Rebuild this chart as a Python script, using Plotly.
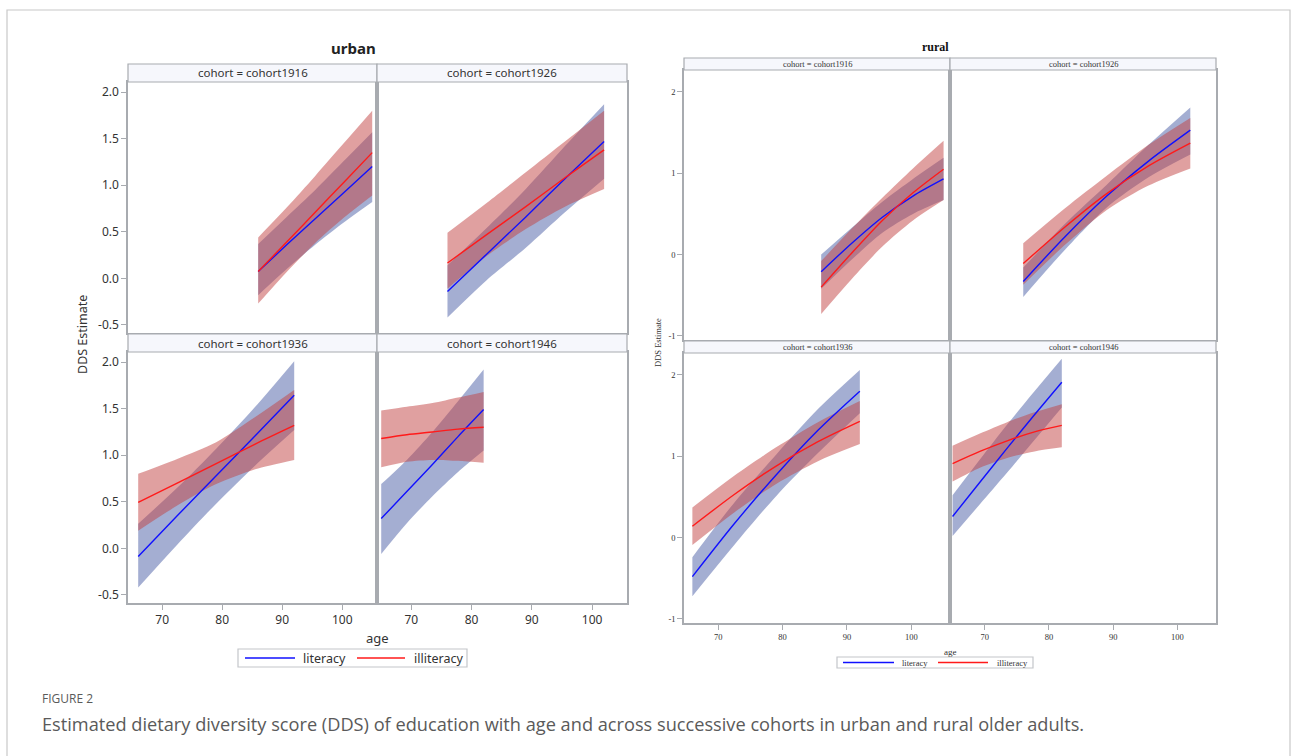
import plotly.graph_objects as go

W, H = 1292, 756

cohorts = ["cohort1916", "cohort1926", "cohort1936", "cohort1946"]
series_names = ["literacy", "illiteracy"]

# ---------------- urban ----------------
u1916_age = [86, 90.75, 95.5, 100.25, 105]
u1916_lit = [0.075, 0.36, 0.64, 0.92, 1.20]
u1916_lit_lo = [-0.18, 0.10, 0.36, 0.60, 0.82]
u1916_lit_hi = [0.37, 0.66, 0.95, 1.26, 1.57]
u1916_ill = [0.075, 0.39, 0.71, 1.03, 1.35]
u1916_ill_lo = [-0.27, 0.07, 0.38, 0.65, 0.89]
u1916_ill_hi = [0.44, 0.76, 1.10, 1.45, 1.80]

u1926_age = [76, 82.5, 89, 95.5, 102]
u1926_lit = [-0.14, 0.26, 0.66, 1.07, 1.47]
u1926_lit_lo = [-0.42, -0.02, 0.33, 0.71, 1.07]
u1926_lit_hi = [0.14, 0.54, 0.96, 1.42, 1.87]
u1926_ill = [0.165, 0.47, 0.77, 1.08, 1.38]
u1926_ill_lo = [-0.11, 0.24, 0.53, 0.77, 0.96]
u1926_ill_hi = [0.49, 0.81, 1.14, 1.47, 1.80]

u1936_age = [66, 72.5, 79, 85.5, 92]
u1936_lit = [-0.086, 0.35, 0.78, 1.21, 1.645]
u1936_lit_lo = [-0.42, 0.04, 0.48, 0.89, 1.27]
u1936_lit_hi = [0.265, 0.65, 1.07, 1.52, 2.01]
u1936_ill = [0.495, 0.70, 0.91, 1.12, 1.32]
u1936_ill_lo = [0.19, 0.46, 0.69, 0.85, 0.95]
u1936_ill_hi = [0.80, 0.96, 1.14, 1.41, 1.70]

u1946_age = [65, 69.25, 73.5, 77.75, 82]
u1946_lit = [0.32, 0.61, 0.90, 1.20, 1.49]
u1946_lit_lo = [-0.06, 0.27, 0.56, 0.82, 1.05]
u1946_lit_hi = [0.69, 0.95, 1.25, 1.58, 1.92]
u1946_ill = [1.18, 1.22, 1.25, 1.28, 1.30]
u1946_ill_lo = [0.87, 0.93, 0.95, 0.94, 0.92]
u1946_ill_hi = [1.48, 1.52, 1.56, 1.62, 1.68]

# ---------------- rural ----------------
r1916_age = [86, 90.75, 95.5, 100.25, 105]
r1916_lit = [-0.21, 0.14, 0.46, 0.72, 0.93]
r1916_lit_lo = [-0.42, -0.06, 0.27, 0.50, 0.67]
r1916_lit_hi = [0.0, 0.33, 0.65, 0.93, 1.19]
r1916_ill = [-0.40, 0.02, 0.42, 0.76, 1.05]
r1916_ill_lo = [-0.73, -0.30, 0.10, 0.42, 0.67]
r1916_ill_hi = [-0.08, 0.32, 0.70, 1.06, 1.40]

r1926_age = [76, 82.5, 89, 95.5, 102]
r1926_lit = [-0.33, 0.22, 0.72, 1.15, 1.53]
r1926_lit_lo = [-0.52, 0.06, 0.58, 0.95, 1.23]
r1926_lit_hi = [-0.16, 0.38, 0.86, 1.35, 1.81]
r1926_ill = [-0.11, 0.34, 0.75, 1.09, 1.37]
r1926_ill_lo = [-0.37, 0.12, 0.55, 0.85, 1.06]
r1926_ill_hi = [0.14, 0.57, 0.97, 1.35, 1.68]

r1936_age = [66, 72.5, 79, 85.5, 92]
r1936_lit = [-0.48, 0.17, 0.77, 1.32, 1.80]
r1936_lit_lo = [-0.72, -0.09, 0.51, 1.04, 1.53]
r1936_lit_hi = [-0.24, 0.43, 1.02, 1.58, 2.06]
r1936_ill = [0.14, 0.53, 0.88, 1.18, 1.43]
r1936_ill_lo = [-0.09, 0.31, 0.66, 0.94, 1.15]
r1936_ill_hi = [0.37, 0.76, 1.11, 1.42, 1.68]

r1946_age = [65, 69.25, 73.5, 77.75, 82]
r1946_lit = [0.26, 0.68, 1.10, 1.51, 1.91]
r1946_lit_lo = [0.02, 0.41, 0.80, 1.20, 1.60]
r1946_lit_hi = [0.52, 0.96, 1.39, 1.80, 2.20]
r1946_ill = [0.91, 1.06, 1.19, 1.30, 1.38]
r1946_ill_lo = [0.69, 0.86, 0.98, 1.06, 1.11]
r1946_ill_hi = [1.13, 1.28, 1.42, 1.54, 1.64]

urban_ticks = [-0.5, 0.0, 0.5, 1.0, 1.5, 2.0]
rural_ticks = [-1, 0, 1, 2]
age_ticks = [70, 80, 90, 100]

# ---------------- styling ----------------
BLUE_FILL = "rgba(73,93,165,0.5)"
RED_FILL = "rgba(193,65,65,0.5)"
BLUE = "#1010FF"
RED = "#FF1A1A"
FRAME = "#A8ABB0"
SANS = "Noto Sans"
SERIF = "Liberation Serif"


def fx(p):
    return p / W


def fy(p):
    return 1 - p / H


panels = [
    (dict(age=u1916_age, lit=u1916_lit, lit_lo=u1916_lit_lo, lit_hi=u1916_lit_hi,
          ill=u1916_ill, ill_lo=u1916_ill_lo, ill_hi=u1916_ill_hi), (128, 377), (82, 333), "urban", 0, 0, cohorts[0]),
    (dict(age=u1926_age, lit=u1926_lit, lit_lo=u1926_lit_lo, lit_hi=u1926_lit_hi,
          ill=u1926_ill, ill_lo=u1926_ill_lo, ill_hi=u1926_ill_hi), (377, 627), (82, 333), "urban", 0, 1, cohorts[1]),
    (dict(age=u1936_age, lit=u1936_lit, lit_lo=u1936_lit_lo, lit_hi=u1936_lit_hi,
          ill=u1936_ill, ill_lo=u1936_ill_lo, ill_hi=u1936_ill_hi), (128, 377), (352, 603), "urban", 1, 0, cohorts[2]),
    (dict(age=u1946_age, lit=u1946_lit, lit_lo=u1946_lit_lo, lit_hi=u1946_lit_hi,
          ill=u1946_ill, ill_lo=u1946_ill_lo, ill_hi=u1946_ill_hi), (377, 627), (352, 603), "urban", 1, 1, cohorts[3]),
    (dict(age=r1916_age, lit=r1916_lit, lit_lo=r1916_lit_lo, lit_hi=r1916_lit_hi,
          ill=r1916_ill, ill_lo=r1916_ill_lo, ill_hi=r1916_ill_hi), (684, 950), (70, 340), "rural", 0, 0, cohorts[0]),
    (dict(age=r1926_age, lit=r1926_lit, lit_lo=r1926_lit_lo, lit_hi=r1926_lit_hi,
          ill=r1926_ill, ill_lo=r1926_ill_lo, ill_hi=r1926_ill_hi), (950, 1216), (70, 340), "rural", 0, 1, cohorts[1]),
    (dict(age=r1936_age, lit=r1936_lit, lit_lo=r1936_lit_lo, lit_hi=r1936_lit_hi,
          ill=r1936_ill, ill_lo=r1936_ill_lo, ill_hi=r1936_ill_hi), (684, 950), (353, 623), "rural", 1, 0, cohorts[2]),
    (dict(age=r1946_age, lit=r1946_lit, lit_lo=r1946_lit_lo, lit_hi=r1946_lit_hi,
          ill=r1946_ill, ill_lo=r1946_ill_lo, ill_hi=r1946_ill_hi), (950, 1216), (353, 623), "rural", 1, 1, cohorts[3]),
]

fig = go.Figure()
shapes = []
annotations = []
layout_axes = {}

for i, (d, xs, ys, region, row, col, coh) in enumerate(panels, start=1):
    xa = "x" if i == 1 else f"x{i}"
    ya = "y" if i == 1 else f"y{i}"
    urban = region == "urban"
    font_name = SANS if urban else SERIF
    tick_size = 12 if urban else 8.5
    for lo, hi, fill in ((d["lit_lo"], d["lit_hi"], BLUE_FILL), (d["ill_lo"], d["ill_hi"], RED_FILL)):
        fig.add_trace(go.Scatter(x=d["age"], y=lo, xaxis=xa, yaxis=ya, mode="lines",
                                 line=dict(width=0, shape="spline", smoothing=0.8),
                                 showlegend=False, hoverinfo="skip"))
        fig.add_trace(go.Scatter(x=d["age"], y=hi, xaxis=xa, yaxis=ya, mode="lines",
                                 line=dict(width=0, shape="spline", smoothing=0.8),
                                 fill="tonexty", fillcolor=fill,
                                 showlegend=False, hoverinfo="skip"))
    for key, color, name in (("lit", BLUE, series_names[0]), ("ill", RED, series_names[1])):
        fig.add_trace(go.Scatter(x=d["age"], y=d[key], xaxis=xa, yaxis=ya, mode="lines",
                                 name=name, line=dict(color=color, width=1.4, shape="spline", smoothing=0.8),
                                 showlegend=False))

    xr = [64.3, 105.8] if urban else ([64.7, 106.0] if col == 0 else [64.6, 106.0])
    yr = [-0.586, 2.108] if urban else [-1.05, 2.27]
    yt = urban_ticks if urban else rural_ticks
    ytext = [f"{v:.1f}" for v in yt] if urban else [f"{v:d}" for v in yt]
    show_x = row == 1
    show_y = col == 0
    layout_axes["xaxis" if i == 1 else f"xaxis{i}"] = dict(
        domain=[fx(xs[0]), fx(xs[1])], range=xr, anchor=ya,
        showline=True, mirror=True, linecolor=FRAME, linewidth=1.5,
        showgrid=False, zeroline=False,
        tickvals=age_ticks if show_x else [], ticktext=[str(v) for v in age_ticks] if show_x else [],
        ticks="outside" if show_x else "",
        ticklen=5, tickcolor=FRAME, showticklabels=show_x,
        tickfont=dict(family=font_name, size=tick_size, color="#333"), fixedrange=True,
    )
    layout_axes["yaxis" if i == 1 else f"yaxis{i}"] = dict(
        domain=[fy(ys[1]), fy(ys[0])], range=yr, anchor=xa,
        showline=True, mirror=True, linecolor=FRAME, linewidth=1.5,
        showgrid=False, zeroline=False,
        tickvals=yt if show_y else [], ticktext=ytext if show_y else [],
        ticks="outside" if show_y else "", ticklen=5, tickcolor=FRAME,
        showticklabels=show_y,
        tickfont=dict(family=font_name, size=tick_size, color="#333"), fixedrange=True,
    )
    sh = 18 if urban else 12
    shapes.append(dict(type="rect", xref="paper", yref="paper",
                       x0=fx(xs[0]), x1=fx(xs[1]), y0=fy(ys[0]), y1=fy(ys[0] - sh),
                       fillcolor="#F6F7FC", line=dict(color=FRAME, width=1.2), layer="above"))
    annotations.append(dict(xref="paper", yref="paper", x=fx((xs[0] + xs[1]) / 2), y=fy(ys[0] - sh / 2),
                            text=f"cohort = {coh}", showarrow=False, xanchor="center", yanchor="middle",
                            font=dict(family=font_name, size=11.5 if urban else 8.5, color="#333")))

fig.update_layout(**layout_axes)


def text(x, y, s, size, family, color="#333", bold=False, angle=0, xanchor="center"):
    annotations.append(dict(xref="paper", yref="paper", x=fx(x), y=fy(y),
                            text=f"<b>{s}</b>" if bold else s, showarrow=False,
                            xanchor=xanchor, yanchor="middle", textangle=angle,
                            font=dict(family=family, size=size, color=color)))


text(353, 48, "urban", 15, SANS, "#222", bold=True)
text(935, 47, "rural", 12, SERIF, "#111", bold=True)
text(377, 638, "age", 13, SANS)
text(950, 652, "age", 9, SERIF)
text(82, 335, "DDS Estimate", 12.5, SANS, angle=-90)
text(658, 343, "DDS Estimate", 8.5, SERIF, angle=-90)


def legend(box, yc, blue_seg, lit_x, red_seg, ill_x, size, family):
    shapes.append(dict(type="rect", xref="paper", yref="paper", x0=fx(box[0]), x1=fx(box[1]),
                       y0=fy(box[2]), y1=fy(box[3]), line=dict(color="#C4C6CA", width=1.2),
                       fillcolor="white"))
    shapes.append(dict(type="line", xref="paper", yref="paper", x0=fx(blue_seg[0]), x1=fx(blue_seg[1]),
                       y0=fy(yc), y1=fy(yc), line=dict(color=BLUE, width=1.4)))
    shapes.append(dict(type="line", xref="paper", yref="paper", x0=fx(red_seg[0]), x1=fx(red_seg[1]),
                       y0=fy(yc), y1=fy(yc), line=dict(color=RED, width=1.4)))
    text(lit_x, yc, series_names[0], size, family, xanchor="left")
    text(ill_x, yc, series_names[1], size, family, xanchor="left")


legend((238, 467, 649, 667), 658, (245, 295), 301, (357, 405), 412, 12.5, SANS)
legend((837, 1033, 657, 668), 662.5, (843, 894), 900, (938, 988), 995, 8.5, SERIF)

text(40, 698, "FIGURE 2", 12, "Open Sans", "#5a5a5a", xanchor="left")
text(40, 724, "Estimated dietary diversity score (DDS) of education with age and across successive cohorts in urban and rural older adults.",
     18.2, "Open Sans", "#5a5a5a", xanchor="left")

shapes.append(dict(type="rect", xref="paper", yref="paper", x0=fx(7), x1=fx(1290), y0=fy(790), y1=fy(10),
                   line=dict(color="#C8C8C8", width=1.2), fillcolor="rgba(0,0,0,0)", layer="below"))

fig.update_layout(
    width=W, height=H, margin=dict(l=0, r=0, t=0, b=0),
    paper_bgcolor="white", plot_bgcolor="white",
    shapes=shapes, annotations=annotations, showlegend=False,
)

fig.write_html("out.html", config={"displayModeBar": False},
               post_script="document.body.style.margin='0';document.body.style.overflow='hidden';")
